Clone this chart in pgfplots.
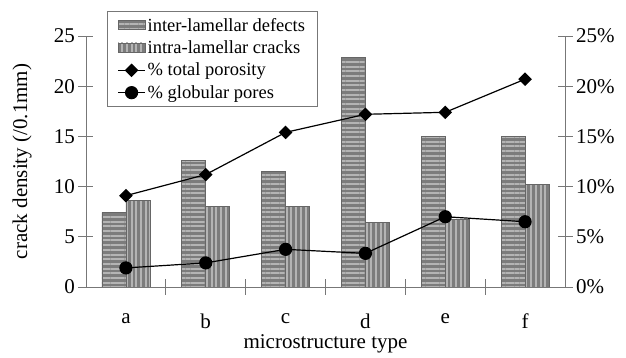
\documentclass[border=0pt]{standalone}
\usepackage{fontspec}
\setmainfont{Liberation Serif}
\usepackage{pgfplots}
\pgfplotsset{compat=1.18}
\usetikzlibrary{patterns.meta}
\definecolor{barfill}{HTML}{7C7C7C}
\definecolor{barstripe}{HTML}{B4B4B4}
\definecolor{axisgray}{HTML}{777777}

\pgfplotsset{
  interbar/.style={fill=barfill, draw=black!60, line width=0.6pt,
    postaction={pattern={Lines[angle=0, distance=4.7pt, line width=2pt]}, pattern color=barstripe}},
  intrabar/.style={fill=barfill, draw=black!60, line width=0.6pt,
    postaction={pattern={Lines[angle=90, distance=4.7pt, line width=2pt]}, pattern color=barstripe}},
  barlegend/.style={legend image code/.code={\draw[##1] (0pt,-4pt) rectangle (27pt,5pt);}},
  linelegend/.style={legend image code/.code={%
    \draw[mark repeat=2, mark phase=2, ##1] plot coordinates {(0pt,0pt) (13.5pt,0pt) (27pt,0pt)};}},
  base/.style={
    scale only axis, width=479pt, height=251pt,
    xmin=-0.5, xmax=5.5, ymin=0, ymax=25,
    ytick={0,5,...,25},
    tick align=center, major tick length=15pt,
    tick style={axisgray, line width=0.8pt},
    ticklabel style={font=\fontsize{21}{24}\selectfont},
    /pgf/number format/assume math mode=true,
  },
}

\begin{document}
\begin{tikzpicture}
\begin{axis}[base,
  axis x line=bottom, axis y line=left,
  axis line style={-, axisgray, line width=0.8pt},
  xtick={0,1,2,3,4,5}, xticklabels={a,b,c,d,e,f},
  major x tick style={draw=none},
  xticklabel style={yshift=-16pt},
  minor xtick={0.5,1.5,2.5,3.5,4.5}, minor tick length=15pt,
  xlabel={microstructure type},
  ylabel={crack density (/0.1mm)},
  every axis x label/.style={at={(axis description cs:0.5,-0.228)}, anchor=center,
    font=\fontsize{21}{24}\selectfont},
  every axis y label/.style={at={(axis description cs:-0.1336,0.5)}, rotate=90, anchor=center,
    font=\fontsize{21}{24}\selectfont},
]
\coordinate (O) at (rel axis cs:0,0);
\addplot[ybar, bar width=0.3, bar shift=-0.15, interbar] coordinates
  {(0,7.4) (1,12.6) (2,11.5) (3,22.9) (4,15.0) (5,15.0)};
\addplot[ybar, bar width=0.3, bar shift=0.15, intrabar] coordinates
  {(0,8.6) (1,8.0) (2,8.0) (3,6.4) (4,6.7) (5,10.2)};
\end{axis}
\begin{axis}[base,
  axis x line=none, axis y line=right,
  axis line style={-, axisgray, line width=0.8pt},
  yticklabel={\pgfmathprintnumber{\tick}\%},
  legend cell align=left,
  legend style={at={(0.044,1.10)}, anchor=north west, draw=axisgray, line width=0.8pt,
    font=\fontsize{18.5}{21}\selectfont, row sep=4pt, inner xsep=10pt, inner ysep=5pt},
]
\addlegendimage{barlegend, interbar}
\addlegendentry{inter-lamellar defects}
\addlegendimage{barlegend, intrabar}
\addlegendentry{intra-lamellar cracks}
\addplot[black, line width=1.2pt, mark=square*, mark size=4.2pt, mark options={rotate=45},
  linelegend] coordinates
  {(0,9.1) (1,11.2) (2,15.4) (3,17.2) (4,17.4) (5,20.7)};
\addlegendentry{\% total porosity}
\addplot[black, line width=1.2pt, mark=*, mark size=6pt, linelegend] coordinates
  {(0,1.9) (1,2.4) (2,3.75) (3,3.35) (4,7.0) (5,6.5)};
\addlegendentry{\% globular pores}
\end{axis}
\pgfresetboundingbox
\path ([shift={(-86pt,-71pt)}]O) rectangle ([shift={(540pt,287pt)}]O);
\end{tikzpicture}
\end{document}
